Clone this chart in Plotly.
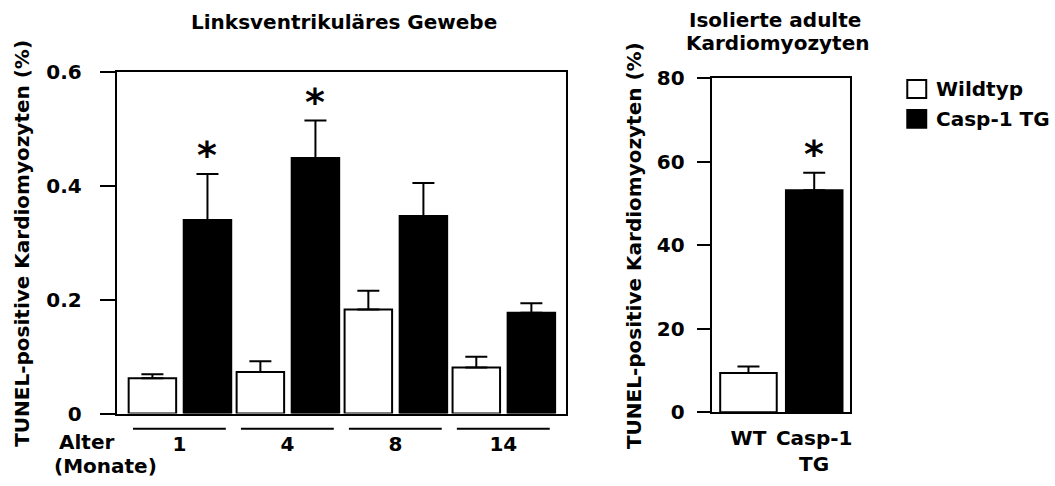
import plotly.graph_objects as go

# ---- data ----
ages = ["1", "4", "8", "14"]
series_names = ["Wildtyp", "Casp-1 TG"]
wt_lv = [0.062, 0.073, 0.183, 0.081]
wt_lv_err = [0.007, 0.019, 0.033, 0.019]
tg_lv = [0.340, 0.449, 0.347, 0.177]
tg_lv_err = [0.081, 0.066, 0.058, 0.017]
sig_lv = [True, True, False, False]

iso_labels = ["WT", "Casp-1"]
iso_vals = [9.4, 53.2]
iso_err = [1.55, 4.2]
iso_sig = [False, True]

left_yticks = [0, 0.2, 0.4, 0.6]
left_yticktext = ["0", "0.2", "0.4", "0.6"]
right_yticks = [0, 20, 40, 60, 80]

W, H = 1055, 486
FONT = "DejaVu Sans"
FS = 20
K = 0.957  # observed vertical compression


def px_x(p):
    return p / W


def px_y(p):
    q = 243 + (p - 243) / K
    return 1 - q / H


pos = list(range(len(ages)))
fig = go.Figure()

fig.add_trace(go.Bar(
    x=pos, y=wt_lv, width=0.44, offset=-0.47, name=series_names[0],
    marker=dict(color="white", line=dict(color="black", width=2)),
    error_y=dict(type="data", array=wt_lv_err, arrayminus=[0] * 4, symmetric=False,
                 color="black", thickness=2, width=11),
    xaxis="x", yaxis="y", showlegend=False))
fig.add_trace(go.Bar(
    x=pos, y=tg_lv, width=0.44, offset=0.04, name=series_names[1],
    marker=dict(color="black", line=dict(color="black", width=2)),
    error_y=dict(type="data", array=tg_lv_err, arrayminus=[0] * 4, symmetric=False,
                 color="black", thickness=2, width=11),
    xaxis="x", yaxis="y", showlegend=False))

fig.add_trace(go.Bar(
    x=[0, 1], y=iso_vals, width=0.86,
    marker=dict(color=["white", "black"], line=dict(color="black", width=2)),
    error_y=dict(type="data", array=iso_err, arrayminus=[0, 0], symmetric=False,
                 color="black", thickness=2, width=11),
    xaxis="x2", yaxis="y2", showlegend=False))

bold = dict(family=FONT, size=FS, color="black", weight="bold")

axis_common = dict(showline=True, linecolor="black", linewidth=2, mirror=True,
                   showgrid=False, zeroline=False, tickfont=bold)

fig.update_layout(
    width=W, height=H, margin=dict(l=0, r=0, t=0, b=0),
    paper_bgcolor="white", plot_bgcolor="white",
    barmode="overlay", showlegend=False,
    font=dict(family=FONT, size=FS, color="black"),
    xaxis=dict(domain=[px_x(117), px_x(567)], range=[-0.58, 3.58],
               tickvals=pos, ticktext=ages, ticks="", ticklabelstandoff=11,
               anchor="y", **axis_common),
    yaxis=dict(domain=[px_y(414.7), px_y(71)], range=[0, 0.6],
               tickvals=left_yticks, ticktext=left_yticktext,
               ticks="outside", ticklen=15, tickwidth=2, tickcolor="black",
               ticklabelstandoff=14, anchor="x", **axis_common),
    xaxis2=dict(domain=[px_x(713), px_x(852)], range=[-0.56, 1.55],
                tickvals=[0, 1], ticktext=iso_labels, ticks="", ticklabelstandoff=7,
                anchor="y2", **axis_common),
    yaxis2=dict(domain=[px_y(413.3), px_y(77.3)], range=[0, 80],
                tickvals=right_yticks, ticks="outside", ticklen=13, tickwidth=2,
                tickcolor="black", ticklabelstandoff=8, anchor="x2", **axis_common),
)

ann = []
shapes = []
# panel titles
ann.append(dict(text="Linksventrikuläres Gewebe", xref="paper", yref="paper",
                x=px_x(345), y=px_y(21), xanchor="center", yanchor="middle",
                showarrow=False, font=bold))
ann.append(dict(text="Isolierte adulte", xref="paper", yref="paper",
                x=px_x(776), y=px_y(18), xanchor="center", yanchor="middle",
                showarrow=False, font=bold))
ann.append(dict(text="Kardiomyozyten", xref="paper", yref="paper",
                x=px_x(779), y=px_y(42), xanchor="center", yanchor="middle",
                showarrow=False, font=bold))
# y titles
ytitle = "TUNEL-positive Kardiomyozyten (%)"
ann.append(dict(text=ytitle, xref="paper", yref="y domain", x=px_x(22), y=0.5,
                textangle=-90, xanchor="center", yanchor="middle", showarrow=False, font=bold))
ann.append(dict(text=ytitle, xref="paper", yref="y2 domain", x=px_x(635), y=0.5,
                textangle=-90, xanchor="center", yanchor="middle", showarrow=False, font=bold))
# age axis label
ann.append(dict(text="Alter", xref="paper", yref="paper", x=px_x(57), y=px_y(443),
                xanchor="left", yanchor="middle", showarrow=False, font=bold))
ann.append(dict(text="(Monate)", xref="paper", yref="paper", x=px_x(52), y=px_y(468),
                xanchor="left", yanchor="middle", showarrow=False, font=bold))
# TG second line for isolated panel
ann.append(dict(text="TG", xref="x2", yref="paper", x=1, y=px_y(465),
                xanchor="center", yanchor="middle", showarrow=False, font=bold))
# significance stars
star_font = dict(family=FONT, size=38, color="black", weight="bold")
for i, s in enumerate(sig_lv):
    if s:
        ann.append(dict(text="*", xref="x", yref="y", x=i + 0.26,
                        y=tg_lv[i] + tg_lv_err[i], yanchor="bottom", xanchor="center",
                        showarrow=False, yshift=-5, font=star_font))
for i, s in enumerate(iso_sig):
    if s:
        ann.append(dict(text="*", xref="x2", yref="y2", x=i,
                        y=iso_vals[i] + iso_err[i], yanchor="bottom", xanchor="center",
                        showarrow=False, yshift=-5, font=star_font))

# legend (custom, larger swatches)
leg_colors = ["white", "black"]
leg_centres = [88, 118]
for name, col, yc in zip(series_names, leg_colors, leg_centres):
    shapes.append(dict(type="rect", xref="paper", yref="paper",
                       x0=px_x(909), x1=px_x(928), y0=px_y(yc + 9), y1=px_y(yc - 9),
                       fillcolor=col, line=dict(color="black", width=2)))
    ann.append(dict(text=name, xref="paper", yref="paper", x=px_x(936), y=px_y(yc),
                    xanchor="left", yanchor="middle", showarrow=False, font=bold))

# group underline bars
for i in pos:
    shapes.append(dict(type="line", xref="x", yref="paper", x0=i - 0.43, x1=i + 0.43,
                       y0=px_y(430), y1=px_y(430), line=dict(color="black", width=2)))

fig.update_layout(annotations=ann, shapes=shapes)

fig.write_html("out.html")
